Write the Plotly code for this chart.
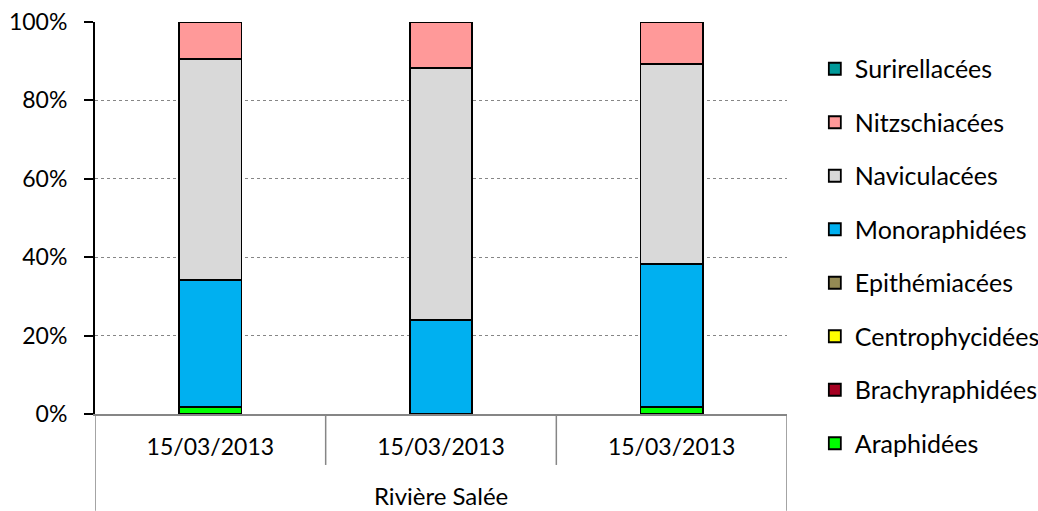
import plotly.graph_objects as go

categories = ["15/03/2013", "15/03/2013", "15/03/2013"]
group_label = "Rivière Salée"
x_pos = [0, 1, 2]

series_names = ["Araphidées", "Brachyraphidées", "Centrophycidées", "Epithémiacées",
                "Monoraphidées", "Naviculacées", "Nitzschiacées", "Surirellacées"]
araphidees = [1.7, 0.0, 1.7]
brachyraphidees = [0.0, 0.0, 0.0]
centrophycidees = [0.0, 0.0, 0.0]
epithemiacees = [0.0, 0.0, 0.0]
monoraphidees = [32.5, 24.0, 36.5]
naviculacees = [56.3, 64.3, 51.0]
nitzschiacees = [9.5, 11.7, 10.8]
surirellacees = [0.0, 0.0, 0.0]
series_values = [araphidees, brachyraphidees, centrophycidees, epithemiacees,
                 monoraphidees, naviculacees, nitzschiacees, surirellacees]
colors = ["#00FF00", "#A50021", "#FFFF00", "#948A54",
          "#00B0F0", "#D9D9D9", "#FF9999", "#009999"]

y_ticks = [0, 20, 40, 60, 80, 100]
y_tick_labels = ["0%", "20%", "40%", "60%", "80%", "100%"]

FONT = "Lato"
FS = 23
fig = go.Figure()
n = len(series_names)
for i, (name, vals, col) in enumerate(zip(series_names, series_values, colors)):
    fig.add_trace(go.Bar(
        x=x_pos, y=vals, name=name, legendgroup=name, legendrank=n - i,
        marker=dict(color=col, line=dict(color="black", width=1.8)),
        width=0.27,
    ))

# category separators
shapes = []
for b in [-0.5, 0.5, 1.5, 2.5]:
    bottom = -0.247 if b in (-0.5, 2.5) else -0.13
    shapes.append(dict(type="line", xref="x", yref="paper", x0=b, x1=b, y0=0, y1=bottom,
                       line=dict(color="#868686", width=1.5)))

fig.update_layout(
    barmode="stack",
    width=1038, height=511,
    margin=dict(l=95, r=251, t=22, b=97),
    plot_bgcolor="white", paper_bgcolor="white",
    font=dict(family=FONT, size=FS, color="black"),
    shapes=shapes,
    xaxis=dict(range=[-0.5, 2.5], tickvals=x_pos, ticktext=categories, automargin=False,
               showgrid=False, zeroline=False, showline=True, linecolor="#868686", linewidth=2,
               ticks="", ticklabelstandoff=11, tickfont=dict(size=FS)),
    yaxis=dict(range=[0, 100], tickvals=y_ticks, ticktext=y_tick_labels, automargin=False,
               showgrid=True, gridcolor="#868686", griddash="dot", gridwidth=1,
               zeroline=False, showline=True, linecolor="black", linewidth=2,
               ticks="outside", ticklen=9, tickcolor="black", tickwidth=2,
               ticklabelstandoff=12, tickfont=dict(size=FS)),
    legend=dict(xref="container", yref="container", x=0.785, y=0.91, xanchor="left", yanchor="top",
                traceorder="grouped", tracegroupgap=18, font=dict(size=25), maxheight=1.0),
    annotations=[dict(text=group_label, xref="x", yref="paper", x=1, y=-0.207,
                      yanchor="middle", showarrow=False, font=dict(size=24))],
)

fig.write_html("out.html")
